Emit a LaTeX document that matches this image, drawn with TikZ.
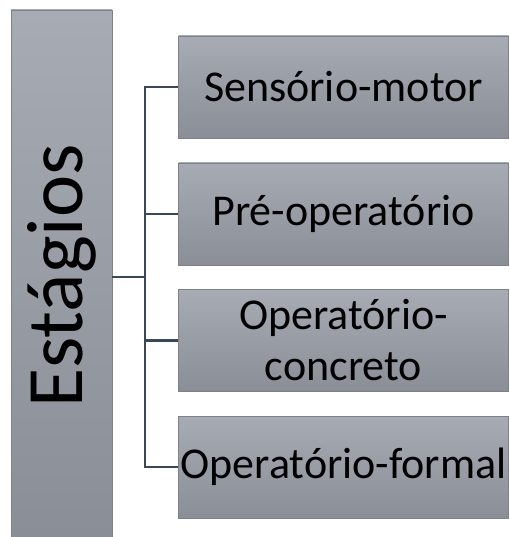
\documentclass[tikz,border=0pt]{standalone}
\usepackage{fontspec}
\setmainfont{Carlito}
\definecolor{boxtop}{HTML}{A7ABB4}
\definecolor{boxbot}{HTML}{8A8E97}
\definecolor{boxline}{HTML}{7E8188}
\definecolor{conncol}{HTML}{3A4758}
\tikzset{
  stagebox/.style={draw=boxline, line width=0.9pt, top color=boxtop, bottom color=boxbot,
    minimum width=330pt, minimum height=102pt, inner sep=0pt, align=center,
    font=\fontsize{44}{51}\selectfont},
  mainbox/.style={draw=boxline, line width=0.9pt, top color=boxtop, bottom color=boxbot,
    minimum width=101pt, minimum height=527pt, inner sep=0pt},
  conn/.style={draw=conncol, line width=2.2pt}
}
\begin{document}
\begin{tikzpicture}[x=1pt,y=1pt]
\useasboundingbox (0,0) rectangle (509,-537);
\node[mainbox] (main) at (61.5,-273.5) {};
\node[rotate=90, font=\fontsize{80}{90}\selectfont, inner sep=0pt] (mainlabel) at (61.5,-276) {Estágios};
\node[stagebox] (b1) at (343.5,-87) {Sensório-motor};
\node[stagebox] (b2) at (343.5,-214) {Pré-operatório};
\node[stagebox] (b3) at (343.5,-340.5) {Operatório-\\concreto};
\node[stagebox] (b4) at (343.5,-467) {Operatório-formal};
\coordinate (j) at (145,-277);
\draw[conn] (main.east |- j) -- (j);
\draw[conn] (b1.west) -- (b1.west -| j) -- (b4.west -| j) -- (b4.west);
\draw[conn] (b2.west) -- (b2.west -| j);
\draw[conn] (b3.west) -- (b3.west -| j);
\end{tikzpicture}
\end{document}
